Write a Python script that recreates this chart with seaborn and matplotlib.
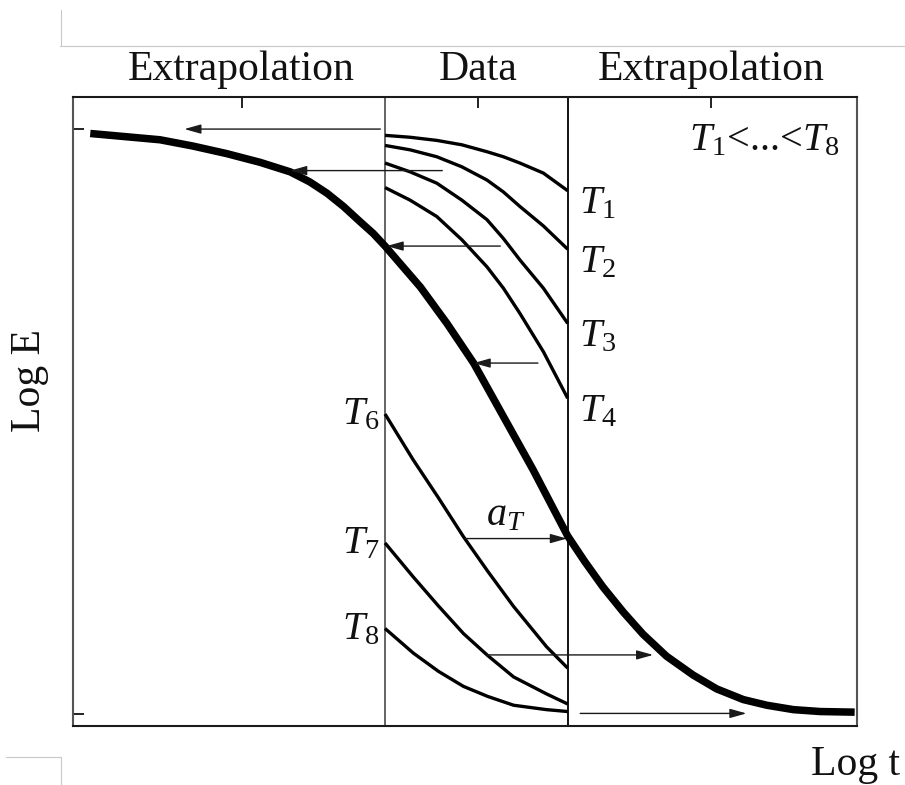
import matplotlib
matplotlib.use("Agg")
import matplotlib.pyplot as plt
from matplotlib.lines import Line2D
import numpy as np
import pandas as pd
import seaborn as sns

# ---- master curve (log E vs log t) ----
master_x = [0.22, 1.11, 1.53, 1.96, 2.39, 2.77, 3.02, 3.24, 3.45, 3.66, 3.83, 3.98,
            4.43, 4.77, 5.11, 5.49, 5.87, 6.31, 6.53, 6.76, 7.02, 7.27, 7.57, 7.91,
            8.21, 8.55, 8.85, 9.19, 9.53, 9.97]
master_y = [9.42, 9.32, 9.22, 9.10, 8.96, 8.81, 8.65, 8.47, 8.26, 8.02, 7.83, 7.63,
            6.98, 6.40, 5.77, 4.92, 4.07, 3.02, 2.61, 2.21, 1.81, 1.46, 1.11, 0.81,
            0.59, 0.42, 0.33, 0.26, 0.23, 0.22]

# ---- measured segments at each temperature (data window) ----
upper_x = [3.98, 4.30, 4.64, 4.96, 5.28, 5.49, 5.70, 6.00, 6.31]
T1 = [9.39, 9.36, 9.31, 9.24, 9.13, 9.05, 8.95, 8.79, 8.51]
T2 = [9.23, 9.16, 9.05, 8.89, 8.68, 8.49, 8.26, 7.95, 7.58]
T3 = [8.95, 8.81, 8.63, 8.36, 8.05, 7.75, 7.41, 6.96, 6.40]
T4 = [8.56, 8.36, 8.10, 7.73, 7.30, 6.96, 6.56, 5.95, 5.21]

lower_x = [3.98, 4.34, 4.66, 4.98, 5.29, 5.62, 6.04, 6.31]
T6 = [4.96, 4.23, 3.63, 3.01, 2.46, 1.90, 1.26, 0.92]
T7 = [2.91, 2.37, 1.91, 1.47, 1.12, 0.78, 0.51, 0.35]
T8 = [1.55, 1.16, 0.87, 0.63, 0.47, 0.33, 0.26, 0.23]

upper_labels = ["$T_1$", "$T_2$", "$T_3$", "$T_4$"]
lower_labels = ["$T_6$", "$T_7$", "$T_8$"]

# ---- shift arrows: (y, tail x, head x) ----
arrow_y = [9.49, 8.83, 7.63, 5.77, 2.98, 1.13, 0.20]
arrow_from = [3.92, 4.71, 5.45, 5.93, 5.00, 5.28, 6.47]
arrow_to = [1.42, 2.77, 4.00, 5.11, 6.30, 7.40, 8.59]

# ---- window bounds and section headers ----
window = [3.98, 6.31]
section_x = [2.15, 5.17, 8.14]
section_names = ["Extrapolation", "Data", "Extrapolation"]
e_ticks = [0.19, 9.49]

sns.set_theme(style="white")
plt.rcParams["font.family"] = ["Liberation Serif", "DejaVu Serif"]
plt.rcParams["mathtext.fontset"] = "custom"
plt.rcParams["mathtext.rm"] = "Liberation Serif"
plt.rcParams["mathtext.it"] = "Liberation Serif:italic"

fig = plt.figure(figsize=(9.05, 7.85), dpi=100)
ax = fig.add_axes([73 / 905, 1 - 726 / 785, 784 / 905, 629 / 785])

# measured segments
rows = []
for name, ys in zip(["T1", "T2", "T3", "T4"], [T1, T2, T3, T4]):
    rows += [{"t": x, "E": y, "curve": name} for x, y in zip(upper_x, ys)]
for name, ys in zip(["T6", "T7", "T8"], [T6, T7, T8]):
    rows += [{"t": x, "E": y, "curve": name} for x, y in zip(lower_x, ys)]
seg = pd.DataFrame(rows)
names = list(seg["curve"].unique())
sns.lineplot(data=seg, x="t", y="E", hue="curve", palette={n: "black" for n in names},
             estimator=None, legend=False, linewidth=2.4, ax=ax,
             solid_capstyle="butt", solid_joinstyle="round")

# master curve
master = pd.DataFrame({"t": master_x, "E": master_y})
sns.lineplot(data=master, x="t", y="E", color="black", linewidth=5.4,
             estimator=None, sort=False, ax=ax, solid_capstyle="butt",
             solid_joinstyle="round")

# data window boundaries
ax.axvline(window[0], color="#3a3a3a", lw=1.1, zorder=1)
ax.axvline(window[1], color="#111111", lw=1.4, zorder=1)

# shift arrows
for y, x0, x1 in zip(arrow_y, arrow_from, arrow_to):
    ax.annotate("", xy=(x1, y), xytext=(x0, y),
                arrowprops=dict(arrowstyle="-|>,head_length=1.0,head_width=0.28",
                                mutation_scale=10, lw=1.0, color="#1a1a1a",
                                shrinkA=0, shrinkB=0))

# labels for the segments
for lab, ys in zip(upper_labels, [T1, T2, T3, T4]):
    ax.annotate(lab, xy=(upper_x[-1], ys[-1]), xytext=(8, -16.5),
                textcoords="offset points", ha="left", va="baseline",
                fontsize=29, color="#111111")
for lab, ys in zip(lower_labels, [T6, T7, T8]):
    ax.annotate(lab, xy=(lower_x[0], ys[0]), xytext=(-4, -7.5),
                textcoords="offset points", ha="right", va="baseline",
                fontsize=29, color="#111111")

ax.text(9.78, 9.16, "$T_1$<...<$T_8$", ha="right", va="baseline",
        fontsize=29, color="#111111")
ax.text(5.52, 3.19, "$a_T$", ha="center", va="baseline", fontsize=29,
        color="#111111")

# section headers above the frame
for x, name in zip(section_x, section_names):
    ax.text(x, 1.027, name, transform=ax.get_xaxis_transform(), ha="center",
            va="baseline", fontsize=30, color="#111111")

ax.set_xlim(0, 10)
ax.set_ylim(0, 10)
ax.set_xticks(section_x)
ax.set_yticks(e_ticks)
ax.tick_params(axis="x", which="both", bottom=False, top=True, labelbottom=False,
               labeltop=False, direction="in", length=8, width=1.4, color="#222222")
ax.tick_params(axis="y", which="both", left=True, right=False, labelleft=False,
               direction="in", length=8, width=1.4, color="#222222")

for side, sp in ax.spines.items():
    sp.set_visible(True)
    sp.set_color("#1a1a1a")
    sp.set_linewidth(1.5)
ax.spines["right"].set_color("#555555")
ax.spines["left"].set_color("#555555")

ax.set_xlabel("Log t", fontsize=30, color="#111111")
ax.xaxis.set_label_coords((900 - 73) / 784, (726 - 775) / 629)
ax.xaxis.label.set_ha("right")
ax.xaxis.label.set_va("baseline")
ax.set_ylabel("Log E", fontsize=30, color="#111111")
ax.yaxis.set_label_coords((30 - 73) / 784, (726 - 381) / 629)
ax.yaxis.label.set_va("center")

# page rules around the figure
W, H = 905, 785
rule = dict(color="#c8c8c8", lw=0.8, transform=fig.transFigure)
fig.add_artist(Line2D([60 / W, 1.0], [1 - 46 / H, 1 - 46 / H], **rule))
fig.add_artist(Line2D([60.5 / W, 60.5 / W], [1 - 10 / H, 1 - 46 / H], **rule))
fig.add_artist(Line2D([6 / W, 61 / W], [1 - 757 / H, 1 - 757 / H], **rule))
fig.add_artist(Line2D([61 / W, 61 / W], [1 - 757 / H, 0.0], **rule))

fig.savefig("out.png", dpi=100, facecolor="white")
